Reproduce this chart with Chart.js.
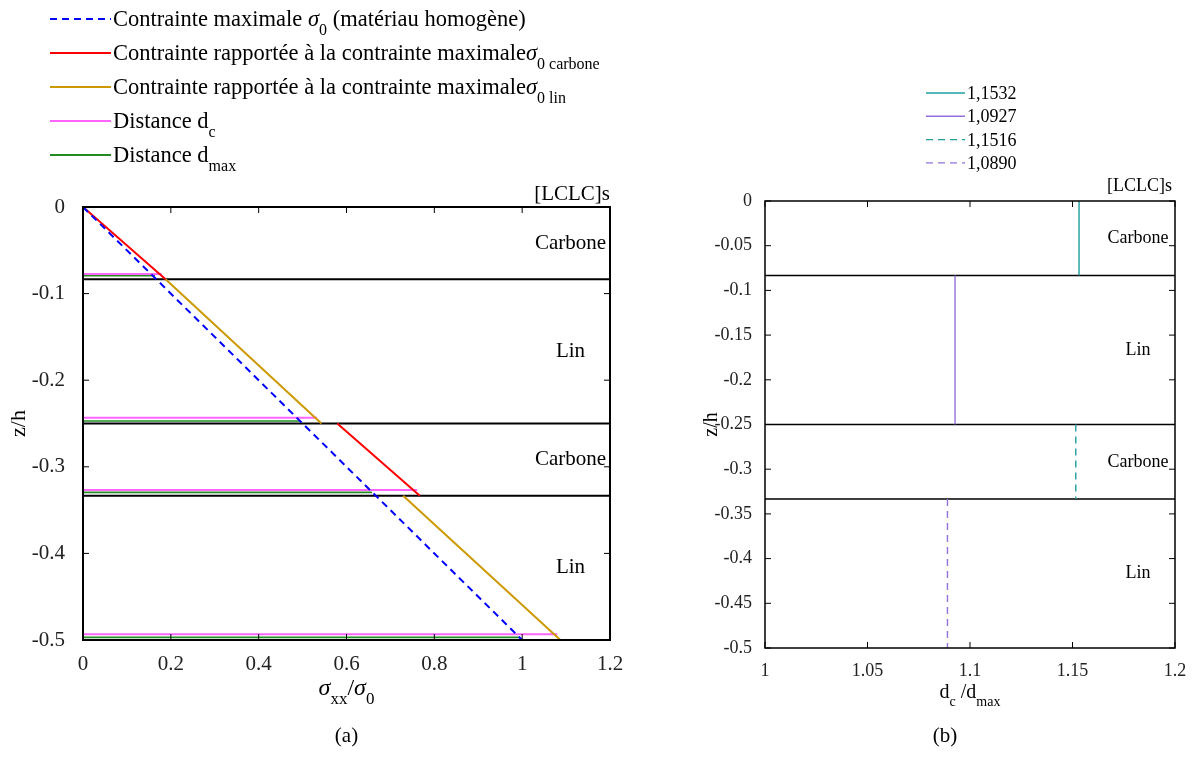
<!DOCTYPE html>
<html>
<head>
<meta charset="utf-8">
<script src="https://cdn.jsdelivr.net/npm/chart.js@4.4.0/dist/chart.umd.min.js"></script>
<style>
  body { margin: 0; background: #fff; }
  #wrap { position: relative; width: 1194px; height: 763px; }
  .box { position: absolute; top: 0; height: 763px; }
</style>
</head>
<body>
<div id="wrap">
  <div class="box" style="left:0;width:650px"><canvas id="chart-stress"></canvas></div>
  <div class="box" style="left:650px;width:544px"><canvas id="chart-ratio"></canvas></div>
</div>
<script>
// ---------------- DATA ----------------

// layer interfaces (z/h)
const interfacesZ = [-1 / 12, -0.25, -1 / 3];
const layerNames = ["Carbone", "Lin", "Carbone", "Lin"];
const layerMidZ = [-0.0417, -0.1667, -0.2917, -0.4167];

// (a) stress profiles, null = break in the line
const homogX = [0, 1];
const homogZ = [0, -0.5];
const carbonX = [0, 0.188, null, 0.579, 0.767];
const carbonZ = [0, -1 / 12, null, -0.25, -1 / 3];
const linX = [0.188, 0.543, null, 0.729, 1.087];
const linZ = [-1 / 12, -0.25, null, -1 / 3, -0.5];

// (a) distances, each drawn from x = 0
const dcEndX = [0.179, 0.533, 0.761, 1.08];
const dcZ = [-0.0774, -0.2435, -0.3268, -0.4935];
const dmaxEndX = [0.164, 0.494, 0.658, 0.994];
const dmaxZ = [-0.0794, -0.2471, -0.3295, -0.497];

// (b) dc/dmax per layer
const ratioValues = [1.1532, 1.0927, 1.1516, 1.0890];
const ratioLabels = ["1,1532", "1,0927", "1,1516", "1,0890"];
const layerTopZ = [0, -1 / 12, -0.25, -1 / 3];
const layerBotZ = [-1 / 12, -0.25, -1 / 3, -0.5];

const FONT = '"Liberation Serif", "Times New Roman", serif';

// ---------------- HELPERS ----------------

function pts(xs, zs) {
    return xs.map((x, i) => ({ x: x, y: zs[i] }));
}

function hSegments(endX, zs) {
    const out = [];
    endX.forEach((x, i) => {
        out.push({ x: 0, y: zs[i] }, { x: x, y: zs[i] }, { x: null, y: null });
    });
    return out;
}

// parts: [text, kind] kind: n normal, i italic, s subscript
function richText(ctx, parts, x, y, size, align) {
    const fontOf = k => k === "s" ? `${Math.round(size * 0.72)}px ${FONT}`
        : (k === "i" ? `italic ${size}px ${FONT}` : `${size}px ${FONT}`);
    let w = 0;
    parts.forEach(([t, k]) => { ctx.font = fontOf(k); w += ctx.measureText(t).width; });
    let cx = align === "center" ? x - w / 2 : (align === "right" ? x - w : x);
    ctx.textAlign = "left";
    ctx.textBaseline = "alphabetic";
    ctx.fillStyle = "#000";
    parts.forEach(([t, k]) => {
        ctx.font = fontOf(k);
        ctx.fillText(t, cx, y + (k === "s" ? size * 0.38 : 0));
        cx += ctx.measureText(t).width;
    });
}

function drawFrame(chart, lw) {
    const ctx = chart.ctx;
    const a = chart.chartArea;
    const xs = chart.scales.x, ys = chart.scales.y;
    ctx.save();
    ctx.strokeStyle = "#000";
    ctx.lineWidth = 1;
    xs.ticks.forEach(t => {
        const px = xs.getPixelForValue(t.value);
        ctx.beginPath();
        ctx.moveTo(px, a.bottom); ctx.lineTo(px, a.bottom - 6);
        ctx.moveTo(px, a.top); ctx.lineTo(px, a.top + 6);
        ctx.stroke();
    });
    ys.ticks.forEach(t => {
        const py = ys.getPixelForValue(t.value);
        ctx.beginPath();
        ctx.moveTo(a.left, py); ctx.lineTo(a.left + 6, py);
        ctx.moveTo(a.right, py); ctx.lineTo(a.right - 6, py);
        ctx.stroke();
    });
    ctx.lineWidth = lw;
    ctx.strokeRect(a.left, a.top, a.right - a.left, a.bottom - a.top);
    ctx.restore();
}

function legendLine(ctx, x1, x2, y, color, dash, lw) {
    ctx.save();
    ctx.strokeStyle = color;
    ctx.lineWidth = lw;
    ctx.setLineDash(dash || []);
    ctx.beginPath();
    ctx.moveTo(x1, y); ctx.lineTo(x2, y);
    ctx.stroke();
    ctx.restore();
}

const tickFmt = v => String(Number(v.toFixed(3)));

// ---------------- CHART (a) ----------------

const legendA = [
    { color: "#0000ff", dash: [7, 5], parts: [["Contrainte maximale ", "n"], ["σ", "i"], ["0", "s"], [" (matériau homogène)", "n"]] },
    { color: "#ff0000", parts: [["Contrainte rapportée à la contrainte maximale", "n"], ["σ", "i"], ["0 carbone", "s"]] },
    { color: "#cc9900", parts: [["Contrainte rapportée à la contrainte maximale", "n"], ["σ", "i"], ["0 lin", "s"]] },
    { color: "#ff66ff", parts: [["Distance d", "n"], ["c", "s"]] },
    { color: "#228b22", parts: [["Distance d", "n"], ["max", "s"]] }
];

const decorA = {
    id: "decorA",
    afterDraw(chart) {
        const ctx = chart.ctx;
        const xs = chart.scales.x, ys = chart.scales.y;
        const a = chart.chartArea;
        drawFrame(chart, 2);
        ctx.save();
        ctx.fillStyle = "#000";
        ctx.font = `21px ${FONT}`;
        ctx.textAlign = "center";
        ctx.textBaseline = "middle";
        layerNames.forEach((n, i) => {
            ctx.fillText(n, xs.getPixelForValue(1.11), ys.getPixelForValue(layerMidZ[i]));
        });
        ctx.textAlign = "right";
        ctx.textBaseline = "alphabetic";
        ctx.fillText("[LCLC]s", a.right, a.top - 7);
        // axis titles
        richText(ctx, [["σ", "i"], ["xx", "s"], ["/", "n"], ["σ", "i"], ["0", "s"]], (a.left + a.right) / 2, 695, 24, "center");
        ctx.font = `21px ${FONT}`;
        ctx.textAlign = "center";
        ctx.fillText("(a)", (a.left + a.right) / 2, 742);
        ctx.save();
        ctx.translate(19, (a.top + a.bottom) / 2);
        ctx.rotate(-Math.PI / 2);
        ctx.font = `22px ${FONT}`;
        ctx.textBaseline = "middle";
        ctx.fillText("z/h", 0, 0);
        ctx.restore();
        // legend
        legendA.forEach((item, i) => {
            const y = 19 + i * 34;
            legendLine(ctx, 50, 111, y, item.color, item.dash, 2);
            richText(ctx, item.parts, 113, y + 7, 22.5, "left");
        });
        ctx.restore();
    }
};

const lineDs = (data, color, width, dash) => ({
    data: data,
    borderColor: color,
    borderWidth: width,
    borderDash: dash || [],
    pointRadius: 0,
    fill: false,
    spanGaps: false,
    tension: 0
});

const boundaryA = [];
interfacesZ.forEach(z => boundaryA.push({ x: 0, y: z }, { x: 1.2, y: z }, { x: null, y: null }));

new Chart(document.getElementById("chart-stress"), {
    type: "line",
    data: {
        datasets: [
            lineDs(pts(homogX, homogZ), "#0000ff", 2, [7, 5]),
            lineDs(pts(carbonX, carbonZ), "#ff0000", 2),
            lineDs(pts(linX, linZ), "#cc9900", 2),
            lineDs(hSegments(dmaxEndX, dmaxZ), "#228b22", 1.6),
            lineDs(hSegments(dcEndX, dcZ), "#ff66ff", 2),
            lineDs(boundaryA, "#000", 2)
        ]
    },
    options: {
        animation: false,
        responsive: true,
        maintainAspectRatio: false,
        events: [],
        layout: { padding: { left: 0, right: 40, top: 207, bottom: 83 } },
        plugins: { legend: { display: false }, tooltip: { enabled: false } },
        scales: {
            x: {
                type: "linear", min: 0, max: 1.2,
                grid: { display: false }, border: { display: false },
                ticks: { stepSize: 0.2, color: "#222", padding: 4, maxRotation: 0, font: { family: FONT, size: 21 }, callback: tickFmt },
                afterFit: s => { s.height = 40; }
            },
            y: {
                type: "linear", min: -0.5, max: 0,
                grid: { display: false }, border: { display: false },
                ticks: { stepSize: 0.1, color: "#222", padding: 10, font: { family: FONT, size: 21 }, callback: tickFmt },
                afterFit: s => { s.width = 83; }
            }
        }
    },
    plugins: [decorA]
});

// ---------------- CHART (b) ----------------

const ratioColors = ["#1f9e9e", "#9370db", "#1f9e9e", "#9370db"];
const ratioDash = [[], [], [7, 5], [7, 5]];

const decorB = {
    id: "decorB",
    afterDraw(chart) {
        const ctx = chart.ctx;
        const xs = chart.scales.x, ys = chart.scales.y;
        const a = chart.chartArea;
        drawFrame(chart, 1.5);
        ctx.save();
        ctx.fillStyle = "#000";
        ctx.font = `18px ${FONT}`;
        ctx.textAlign = "center";
        ctx.textBaseline = "middle";
        layerNames.forEach((n, i) => {
            ctx.fillText(n, xs.getPixelForValue(1.182), ys.getPixelForValue(layerMidZ[i]));
        });
        ctx.textAlign = "right";
        ctx.textBaseline = "alphabetic";
        ctx.fillText("[LCLC]s", a.right - 3, a.top - 10);
        richText(ctx, [["d", "n"], ["c", "s"], [" /d", "n"], ["max", "s"]], (a.left + a.right) / 2, 698, 20, "center");
        ctx.font = `21px ${FONT}`;
        ctx.textAlign = "center";
        ctx.fillText("(b)", (a.left + a.right) / 2 - 25, 742);
        ctx.save();
        ctx.translate(62, ys.getPixelForValue(-0.25));
        ctx.rotate(-Math.PI / 2);
        ctx.font = `20px ${FONT}`;
        ctx.textBaseline = "middle";
        ctx.fillText("z/h", 0, 0);
        ctx.restore();
        // legend
        ratioLabels.forEach((lab, i) => {
            const y = 93 + i * 23.3;
            legendLine(ctx, 276, 315, y, ratioColors[i], ratioDash[i], 1.4);
            richText(ctx, [[lab, "n"]], 317, y + 6, 18, "left");
        });
        ctx.restore();
    }
};

const boundaryB = [];
interfacesZ.forEach(z => boundaryB.push({ x: 1, y: z }, { x: 1.2, y: z }, { x: null, y: null }));

new Chart(document.getElementById("chart-ratio"), {
    type: "line",
    data: {
        datasets: ratioValues.map((v, i) =>
            lineDs([{ x: v, y: layerTopZ[i] }, { x: v, y: layerBotZ[i] }], ratioColors[i], 1.4, ratioDash[i])
        ).concat([lineDs(boundaryB, "#000", 1.5)])
    },
    options: {
        animation: false,
        responsive: true,
        maintainAspectRatio: false,
        events: [],
        layout: { padding: { left: 0, right: 19, top: 201, bottom: 75 } },
        plugins: { legend: { display: false }, tooltip: { enabled: false } },
        scales: {
            x: {
                type: "linear", min: 1, max: 1.2,
                grid: { display: false }, border: { display: false },
                ticks: { stepSize: 0.05, color: "#222", padding: 4, maxRotation: 0, font: { family: FONT, size: 18 }, callback: tickFmt },
                afterFit: s => { s.height = 40; }
            },
            y: {
                type: "linear", min: -0.5, max: 0,
                grid: { display: false }, border: { display: false },
                ticks: { stepSize: 0.05, color: "#222", padding: 5, font: { family: FONT, size: 18 }, callback: tickFmt },
                afterFit: s => { s.width = 115; }
            }
        }
    },
    plugins: [decorB]
});
</script>
</body>
</html>
